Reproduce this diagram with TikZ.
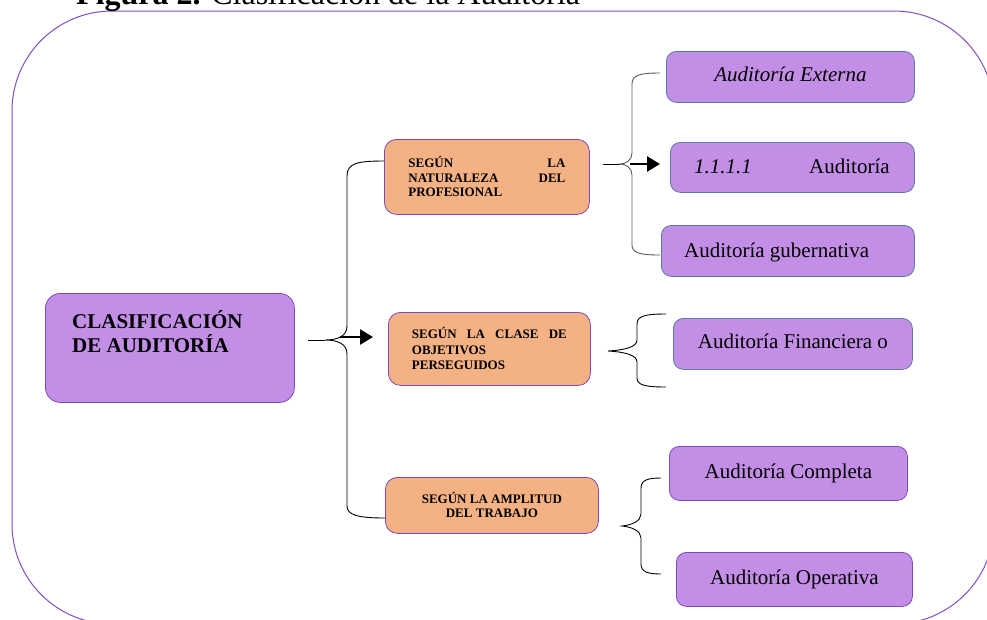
\documentclass[tikz,border=0pt]{standalone}
\usepackage{fontspec}
\setmainfont{Liberation Serif}
\usetikzlibrary{arrows.meta}
\definecolor{purplefill}{RGB}{195,142,230}
\definecolor{orangefill}{RGB}{244,177,131}
\definecolor{purpleedge}{RGB}{125,75,185}
\definecolor{blueedge}{RGB}{85,125,165}
\definecolor{framecol}{RGB}{125,80,195}
\begin{document}
\begin{tikzpicture}[x=1pt,y=-1pt,
  boxbase/.style={draw, line width=0.8pt, inner sep=0pt, anchor=north west},
  mainbox/.style={boxbase, fill=purplefill, draw=purpleedge, rounded corners=15pt},
  orbox/.style={boxbase, fill=orangefill, draw=purpleedge, rounded corners=12pt,
     font=\fontsize{13}{14.5}\selectfont\bfseries},
  rbox/.style={boxbase, fill=purplefill, draw=blueedge, rounded corners=10pt,
     font=\fontsize{21}{25}\selectfont, text height=14pt, text depth=4pt},
  rboxp/.style={rbox, draw=purpleedge},
  lbl/.style={anchor=base west, inner sep=0pt},
  conn/.style={line width=0.9pt, black},
  bracestyle/.style={line width=0.9pt, black},
  bigarrow/.style={line width=2.6pt, -{Triangle[length=13pt,width=15pt]}}
]
\useasboundingbox (0,0) rectangle (987,619);
% outer frame
\draw[framecol, line width=1pt, rounded corners=100pt] (12,11) rectangle (994,624);
% title
\node[lbl, font=\fontsize{32}{36}\selectfont] (title) at (76,4) {\textbf{Figura 2.} Clasificación de la Auditoría};

% main node
\node[mainbox, minimum width=249pt, minimum height=109pt] (main) at (45,293) {};
\node[lbl, font=\fontsize{21}{24}\selectfont\bfseries] (mainA) at (72,328) {CLASIFICACIÓN};
\node[lbl, font=\fontsize{21}{24}\selectfont\bfseries] (mainB) at (72,352) {DE AUDITORÍA};

% orange nodes (justified lines)
\node[orbox, minimum width=205pt, minimum height=75pt, text width=157pt, align=left] (o1) at (384,139)
  {SEGÚN\hfill LA\\NATURALEZA\hfill DEL\\PROFESIONAL};
\node[orbox, minimum width=202pt, minimum height=73pt, text width=155pt, align=left,
  font=\fontsize{13}{15.5}\selectfont\bfseries] (o2) at (388,312)
  {SEGÚN\hfill LA\hfill CLASE\hfill DE\\OBJETIVOS\\PERSEGUIDOS};
\node[orbox, minimum width=213pt, minimum height=56pt, align=center,
  font=\fontsize{13}{14}\selectfont\bfseries] (o3) at (385,477)
  {SEGÚN LA AMPLITUD\\DEL TRABAJO};

% right nodes
\node[rbox, minimum width=248pt, minimum height=51pt] (r1) at (666,51) {\itshape Auditoría Externa};
\node[rbox, minimum width=244pt, minimum height=50pt] (r2) at (670,142) {};
\node[lbl, font=\fontsize{21}{25}\selectfont\itshape] (r2a) at (694,173) {1.1.1.1};
\node[lbl, font=\fontsize{21}{25}\selectfont] (r2b) at (809,173) {Auditoría};
\node[rbox, minimum width=253pt, minimum height=51pt] (r3) at (661,225) {};
\node[lbl, font=\fontsize{21}{25}\selectfont] (r3a) at (684,257) {Auditoría gubernativa};
\node[rbox, minimum width=239pt, minimum height=51pt] (r4) at (673,318) {Auditoría Financiera o};
\node[rboxp, minimum width=238pt, minimum height=54pt] (r5) at (669,446) {Auditoría Completa};
\node[rboxp, minimum width=236pt, minimum height=54pt] (r6) at (676,552) {Auditoría Operativa};

% brace 1 (main -> orange)
\coordinate (c1s) at (308,340);
\coordinate (b1tip) at (325,340);
\coordinate (a1s) at (340,337);
\coordinate (a1e) at (373,337);
\draw[conn] (c1s) -- (b1tip);
\draw[bracestyle] (384,161) .. controls (358,161) and (347,163) .. (347,176) -- (347,326)
  .. controls (347,336) and (338,340) .. (b1tip)
  .. controls (338,340) and (347,344) .. (347,354) -- (347,506)
  .. controls (347,515) and (358,518) .. (385,518);
\draw[bigarrow] (a1s) -- (a1e);

% brace 2 (orange 1 -> right)
\coordinate (c2s) at (603,164);
\coordinate (b2tip) at (620,164);
\coordinate (a2s) at (630,164);
\coordinate (a2e) at (660,164);
\draw[conn] (c2s) -- (b2tip);
\draw[bracestyle, black!65] (660,73) .. controls (640,73) and (632,75) .. (632,84) -- (632,153)
  .. controls (632,160) and (626,164) .. (b2tip)
  .. controls (626,164) and (632,168) .. (632,175) -- (632,245)
  .. controls (632,253) and (640,255) .. (660,255);
\draw[bigarrow] (a2s) -- (a2e);

% brace 3
\coordinate (b3tip) at (608,351);
\draw[bracestyle] (666,314) .. controls (645,314) and (637,316) .. (637,324) -- (637,340)
  .. controls (637,347) and (625,350) .. (b3tip)
  .. controls (625,352) and (637,355) .. (637,362) -- (637,378)
  .. controls (637,385) and (645,387) .. (666,387);

% brace 4
\coordinate (b4tip) at (622,526);
\draw[bracestyle] (661,478) .. controls (648,478) and (641,480) .. (641,488) -- (641,514)
  .. controls (641,521) and (632,525) .. (b4tip)
  .. controls (632,527) and (641,531) .. (641,538) -- (641,564)
  .. controls (641,572) and (648,574) .. (661,574);
\end{tikzpicture}
\end{document}
